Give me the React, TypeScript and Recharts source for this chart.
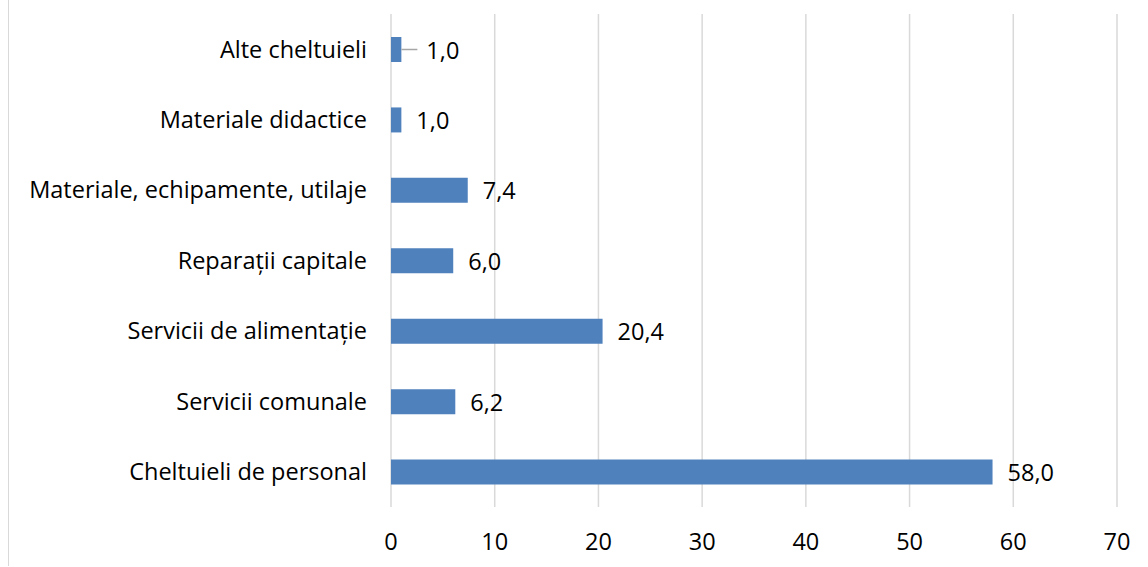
import React from 'react';
import { BarChart, Bar, XAxis, YAxis, CartesianGrid, LabelList } from 'recharts';

const categories = [
    'Alte cheltuieli',
    'Materiale didactice',
    'Materiale, echipamente, utilaje',
    'Reparații capitale',
    'Servicii de alimentație',
    'Servicii comunale',
    'Cheltuieli de personal',
];
const values = [1.0, 1.0, 7.4, 6.0, 20.4, 6.2, 58.0];
const xTicks = [0, 10, 20, 30, 40, 50, 60, 70];

const data = categories.map((name, i) => ({ name, value: values[i] }));

const FONT = '"Open Sans", Lato, sans-serif';
const FONT_SIZE = 23.5;
const BAR_COLOR = '#4f81bd';
const GRID_COLOR = '#d9d9d9';
// the top label sits a little further out with a leader line, as in the original
const LEADER_CATEGORY = 'Alte cheltuieli';

const fmt = (v: number) => v.toFixed(1).replace('.', ',');

function ValueLabel(props: any) {
    const { x, y, width, height, value, index } = props;
    const cy = y + height / 2;
    const end = x + width;
    const hasLeader = data[index]?.name === LEADER_CATEGORY;
    const tx = end + (hasLeader ? 25 : 15);
    return (
        <g>
            {hasLeader && (
                <line x1={end} y1={cy} x2={end + 16} y2={cy} stroke="#a6a6a6" strokeWidth={1.5} />
            )}
            <text x={tx} y={cy} dominantBaseline="central" fill="#000" fontSize={FONT_SIZE} fontFamily={FONT}>
                {fmt(value)}
            </text>
        </g>
    );
}

export default function App() {
    return (
        <div style={{ position: 'absolute', left: 0, top: 0, width: 1148, height: 567, background: '#fff' }}>
            <div style={{ position: 'absolute', left: 8, top: 0, width: 0, height: 566, borderLeft: `1.5px solid ${GRID_COLOR}` }} />
            <BarChart
                width={1148}
                height={567}
                data={data}
                layout="vertical"
                margin={{ top: 14, right: 31, left: 0, bottom: 0 }}
            >
                <CartesianGrid horizontal={false} vertical stroke={GRID_COLOR} strokeWidth={1.5} />
                <XAxis
                    type="number"
                    domain={[0, 70]}
                    ticks={xTicks}
                    height={60}
                    axisLine={false}
                    tickLine={false}
                    tickMargin={20}
                    tick={{ fill: '#000', fontSize: FONT_SIZE, fontFamily: FONT }}
                />
                <YAxis
                    type="category"
                    dataKey="name"
                    width={391}
                    axisLine={false}
                    tickLine={false}
                    tickMargin={18}
                    interval={0}
                    tick={{ fill: '#000', fontSize: FONT_SIZE, fontFamily: FONT }}
                />
                <Bar dataKey="value" fill={BAR_COLOR} barSize={25} isAnimationActive={false}>
                    <LabelList dataKey="value" content={ValueLabel} />
                </Bar>
            </BarChart>
        </div>
    );
}
